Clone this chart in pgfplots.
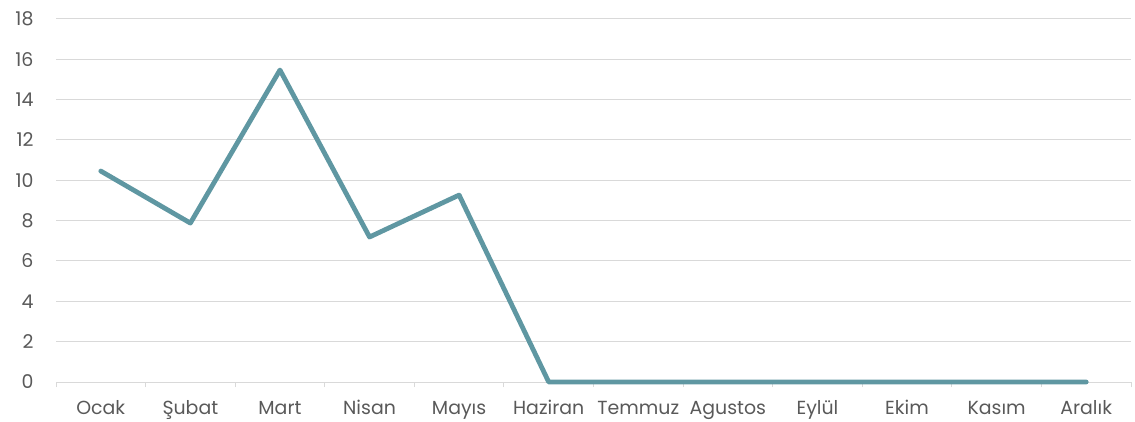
\documentclass[border=0pt]{standalone}
\usepackage{fontspec}
\setmainfont{Poppins}
\usepackage{pgfplots}
\pgfplotsset{compat=1.18}
\definecolor{linec}{HTML}{5F97A2}
\definecolor{gridc}{HTML}{D9D9D9}
\definecolor{textc}{HTML}{595959}
\begin{document}
\begin{tikzpicture}
\useasboundingbox (0,0) rectangle (1135bp,422bp);
\begin{axis}[
  at={(56bp,40bp)}, anchor=south west,
  scale only axis, width=1075bp, height=363bp,
  xmin=-0.5, xmax=11.5, ymin=0, ymax=18,
  ytick={0,2,...,18},
  xtick={0,...,11},
  xticklabels={Ocak,Şubat,Mart,Nisan,Mayıs,Haziran,Temmuz,Agustos,Eylül,Ekim,Kasım,Aralık},
  minor xtick={-0.5,0.5,...,11.5},
  axis x line*=bottom, axis y line*=left,
  y axis line style={draw=none},
  ymajorgrids, grid style={gridc, line width=1bp},
  major tick length=0pt,
  minor tick length=5bp,
  tick align=outside,
  minor tick style={gridc, line width=1bp},
  x axis line style={gridc, line width=1bp, -},
  /pgf/number format/assume math mode=true,
  tick label style={textc, font=\fontsize{19}{22}\selectfont},
  xticklabel style={anchor=north, text height=14bp, text depth=4bp, yshift=-15bp},
  yticklabel style={xshift=-19bp},
  clip=false,
]
\addplot[linec, line width=4.8bp, line cap=round, line join=round] coordinates {
(0,10.46) (1,7.88) (2,15.47) (3,7.19) (4,9.27) (5,0) (6,0) (7,0) (8,0) (9,0) (10,0) (11,0)};
\end{axis}
\end{tikzpicture}
\end{document}
